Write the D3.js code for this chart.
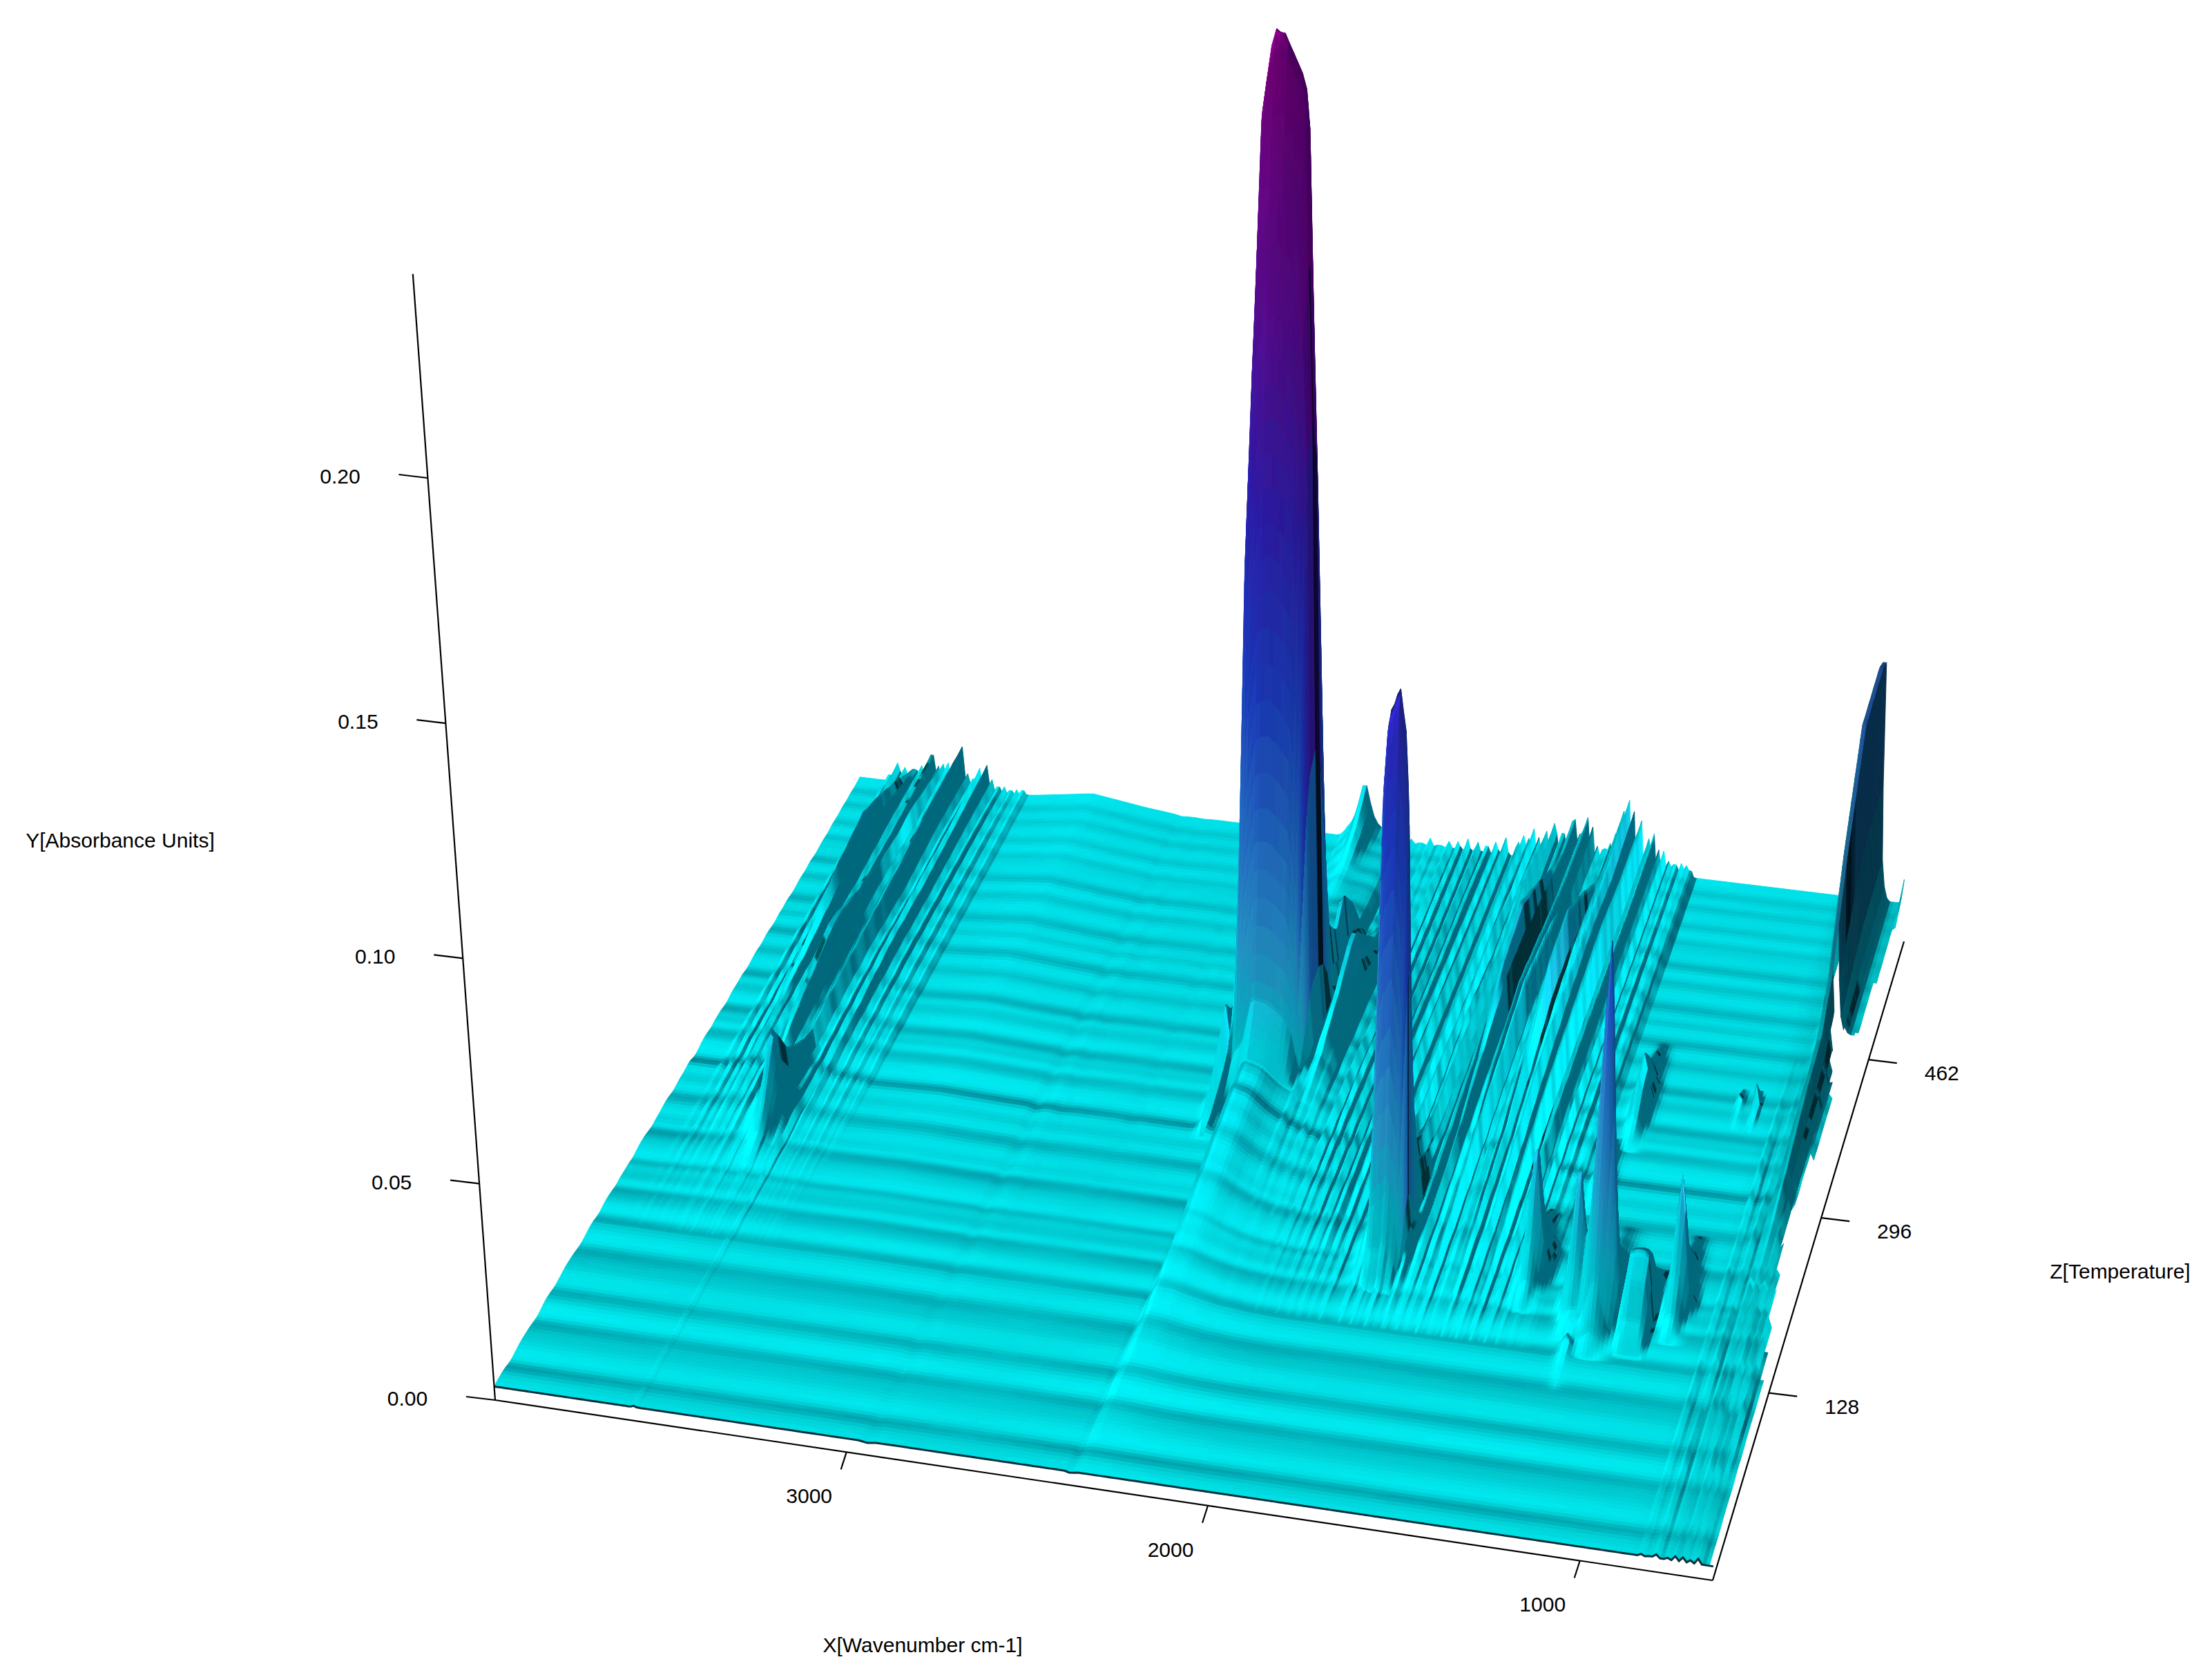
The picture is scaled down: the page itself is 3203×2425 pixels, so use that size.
<!DOCTYPE html>
<html><head><meta charset="utf-8">
<script src="https://cdnjs.cloudflare.com/ajax/libs/d3/7.8.5/d3.min.js"></script>
<style>html,body{margin:0;padding:0;background:#fff}text{font-family:"Liberation Sans",Arial,sans-serif;font-size:30px;fill:#000}</style>
</head><body><svg id="chart" width="3203" height="2425" viewBox="0 0 3203 2425"></svg>
<script>
// ---- axes ----
const wavenumberDomain=[4000,650], temperatureDomain=[-36,596], absorbanceDomain=[0,0.24];
const xTicks=[3000,2000,1000], zTicks=[128,296,462], yTicks=[0,0.05,0.10,0.15,0.20];
const xTitle="X[Wavenumber cm-1]", yTitle="Y[Absorbance Units]", zTitle="Z[Temperature]";
// ---- baseline read along the temperature axis, front to back ----
const baselineByTemperature=[32,34,35,35,32,32,35,37,38,38,38,36,35,38,41,42,41,39,41,43,45,45,45,44,42,42,45,47,48,46,45,48,50,50,49,47,50,50,50,51,49,52,54,55,55,53,51,54,54,56,58,58,56,55,58,59,59,61,63,58,57,60,63,64,63,62,65,65,66,64,63,66,68,68,68,70,68,67,69,71,72,71,71,73,75,73,72,74,76,75,77,78,76,76,78,80,80,79,81,83,81,81,83,84,85,84,86,88,87,88,90,91,90,92,93,92,94,96].map(v=>v/10000);
const stripeGainWn=[4000,3500,3000,2700,2300,1800,1300,900,650], stripeGain=[1.15,.8,1,.7,1.2,.9,1.05,.85,.6];
const spectrumWn=[4000,3500,3400,3230,3050,2930,2600,650], spectrumExtra=[0,0,0.001,0.003,0.001,0,0,0];
// ---- lowest wavenumber still drawn at each temperature ----
const limitTemp=[-36,122,250,375,448,456,596], limitWn=[655,660,715,690,750,680,655];
// ---- absorption bands ----
const T8=[120,200,260,330,400,470,530,596];
const T9=[-36,40,90,130,180,240,300,360,420];
const T6=[280,340,400,450,500,560];
const bandCentres=[2354,2320,2320,2350,1780,1780,1150,1367,1225,950,1045,1210,1230,1270,956,910,3665,2170,2240,2440,755,3600,2880,660,
 1863,1830,1795,1745,1695,1670,1644,1610,1575,1531,1500,1450,1420,1385,1350,1320,1700,1560,
 3869,3820,3790,3756,3720,3690,3657,3620,3579,3540,3500,3460,3830,3730,
 840,800,770,730,690,815,750,710,
 2200,2170,2140,2110,2080,2050,2020,1990,1960,1930,1900,1845,1812,1770,1720,1682,1657,1627,1592,1553,1515,1475,1435,1402,1368,1335,
 3900,3845,3805,3772,3738,3705,3672,3638,3600,3560,3520,3480,
 2375,2345,2940,2860,2660];
const bandHalfWidths=[350,118,78,70,52,120,85,65,60,60,45,45,55,50,12,12,85,70,50,40,50,15,20,12,
 18,18,20,22,20,16,20,20,20,20,18,20,16,16,16,16,45,45,
 16,18,16,20,18,16,20,18,20,18,18,18,40,40,
 12,12,12,12,12,12,12,12,
 17,17,17,17,17,17,17,17,17,17,17,15,15,16,16,14,14,15,15,16,15,16,14,14,14,14,
 15,15,14,14,15,14,14,15,16,16,16,16,
 22,48,34,34,34];
const bandShapes=["step","plateau","box","peak","plateau","peak","peak","peak","peak","peak","plateau"];
const bandTemps=[
 [-36,0,50,100,150,217,260,293,350,400,450,596],
 [305,325,332,340,348,356,368,380,390,400,412,435,520,596],
 [352,362,372,382,392,402],
 [500,540,570,596],
 [150,165,172,178,184,190,194,198,205,215,230,260,300],
 [155,170,180,190,205,230],
 [118,130,140,148,156,162,168,178,190,210,240],
 [150,165,175,182,188,194,202,215,240],
 [130,145,155,162,167,172,182,195,220],
 [140,155,165,172,178,184,194,210,240],
 [125,140,150,160,170,185,205],
 [90,110,125,140,160],
 [310,330,345,360,380,420],
 [250,265,280,295,320],
 [345,360,372,385],
 [345,360,372,385],
 [185,205,218,228,236,244,256,275,300],
 [300,340,380,410,425,440,470,520],
 [400,430,450,470,490],
 [270,300,330,360,400],
 [200,300,350,400,432,470,520,583,596],
 [-36,100,200,300],
 [100,250,400,560],
 [560,585,596],
 T8,T8,T8,T8,T8,T8,T8,T8,T8,T8,T8,T8,T8,T8,T8,T8,T6,T6,
 T8,T8,T8,T8,T8,T8,T8,T8,T8,T8,T8,T8,
 [330,400,450,500,560,596],[270,320,380,440,500],
 T9,T9,T9,T9,T9,T9,T9,T9,
 T8,T8,T8,T8,T8,T8,T8,T8,T8,T8,T8,T8,T8,T8,T8,T8,T8,T8,T8,T8,T8,T8,T8,T8,T8,T8,
 T8,T8,T8,T8,T8,T8,T8,T8,T8,T8,T8,T8,
 [-36,100,200,290],[362,372,382,394],[-36,120,300,596],[120,300,450,596],[150,300,450,596]
];
const bandHeights=[
 [0,.0005,.0015,.003,.005,.009,.011,.012,.01,.005,.002,0],
 [0,.012,.05,.105,.155,.18,.19,.175,.12,.06,.02,.006,.004,.003],
 [0,.019,.037,.037,.016,0],
 [0,.002,.006,.012],
 [0,.004,.014,.04,.075,.105,.112,.1,.065,.03,.01,.003,0],
 [0,.005,.014,.016,.007,0],
 [0,.004,.015,.04,.07,.085,.07,.035,.012,.003,0],
 [0,.004,.012,.022,.03,.026,.015,.006,0],
 [0,.004,.014,.026,.033,.028,.015,.006,0],
 [0,.004,.012,.022,.03,.025,.012,.005,0],
 [0,.005,.012,.016,.014,.006,0],
 [0,.001,.003,.001,0],
 [0,.004,.01,.012,.006,0],
 [0,.004,.008,.004,0],
 [0,.002,.005,0],
 [0,.002,.005,0],
 [0,.003,.009,.016,.02,.016,.009,.004,0],
 [0,.004,.011,.017,.018,.013,.005,0],
 [0,.008,.016,.01,0],
 [0,.008,.018,.009,0],
 [.001,.006,.01,.012,.022,.046,.07,.071,.069],
 [.0003,.0005,.001,0],
 [0,.0008,.001,.0003],
 [0,.003,.006],
 [0,.001,.003,.004,.004,.005,.006,.005],
 [0,.001,.004,.006,.005,.006,.007,.006],
 [0,.002,.005,.006,.008,.006,.007,.006],
 [0,.002,.006,.009,.010,.011,.011,.012],
 [0,.003,.006,.011,.014,.013,.012,.013],
 [0,.002,.005,.008,.009,.008,.009,.009],
 [0,.002,.006,.012,.016,.014,.012,.012],
 [0,.002,.005,.008,.010,.009,.007,.006],
 [0,.003,.007,.011,.014,.012,.008,.008],
 [0,.003,.006,.010,.013,.015,.015,.016],
 [0,.002,.005,.009,.012,.014,.013,.015],
 [0,.002,.004,.008,.008,.009,.009,.010],
 [0,.001,.003,.005,.005,.006,.006,.006],
 [0,.001,.003,.004,.005,.005,.005,.005],
 [0,.001,.002,.003,.003,.004,.004,.004],
 [0,.001,.001,.002,.002,.002,.003,.003],
 [0,.004,.012,.016,.01,0],
 [0,.004,.012,.014,.008,0],
 [0,.001,.002,.003,.004,.006,.006,.007],
 [0,.001,.003,.005,.006,.007,.008,.006],
 [0,.001,.003,.004,.005,.005,.006,.006],
 [0,.002,.005,.007,.009,.010,.011,.012],
 [0,.002,.004,.006,.008,.008,.009,.006],
 [0,.001,.003,.005,.006,.007,.008,.007],
 [0,.002,.005,.008,.009,.010,.012,.012],
 [0,.001,.003,.005,.006,.005,.006,.005],
 [0,.001,.003,.005,.007,.007,.008,.009],
 [0,.001,.002,.003,.004,.004,.004,.003],
 [0,.001,.002,.002,.003,.003,.003,.002],
 [0,0,.001,.002,.002,.002,.002,.002],
 [0,.005,.01,.012,.005,0],
 [0,.006,.011,.005,0],
 [.0004,.001,.0015,.0008,.0015,.001,.002,.001,0],
 [.0008,.0016,.0006,.0018,.0008,.002,.001,.0012,0],
 [.0004,.0012,.002,.001,.002,.0012,.0016,.002,.001],
 [.001,.002,.001,.0024,.0012,.0026,.0016,.002,.001],
 [.0012,.0008,.0024,.0012,.0028,.0014,.002,.0014,.001],
 [.0006,.0012,.0004,.0016,.0009,.0014,.0006,.001,0],
 [.001,.0006,.0018,.0008,.002,.001,.0018,.0012,.0006],
 [.0006,.0018,.0008,.002,.001,.0016,.002,.001,.0006],
 [0,0,.001,.0015,.0018,.002,.0015,.0012],
 [0,.0006,.0015,.002,.0015,.0018,.0024,.0015],
 [0,0,.0012,.0018,.0024,.0018,.0015,.002],
 [0,.001,.0018,.0015,.0027,.0024,.0018,.0015],
 [0,.001,.002,.003,.0024,.002,.0027,.0018],
 [0,.0006,.0018,.0036,.003,.0024,.003,.0024],
 [0,.0012,.0027,.003,.004,.003,.0027,.003],
 [0,.0015,.003,.0045,.004,.0036,.0033,.003],
 [0,.0024,.0036,.005,.0045,.004,.0045,.003],
 [0,.0018,.0045,.006,.005,.0045,.004,.0036],
 [0,.003,.005,.0054,.006,.0048,.0045,.0045],
 [0,.0045,.0075,.0075,.008,.0075,.0075,.006],
 [0,.004,.008,.009,.0075,.009,.0068,.0075],
 [0,.0054,.009,.011,.0105,.0098,.012,.009],
 [0,.006,.0105,.0135,.016,.012,.0128,.0135],
 [0,.005,.009,.012,.0135,.0105,.0112,.012],
 [0,.0054,.0098,.0128,.015,.0112,.012,.0112],
 [0,.006,.0112,.0142,.018,.015,.009,.0105],
 [0,.0054,.009,.0128,.0165,.0135,.0105,.0082],
 [0,.006,.0105,.0142,.0165,.015,.0112,.0128],
 [0,.0054,.009,.0135,.0158,.0165,.0172,.0188],
 [0,.005,.0098,.0128,.0142,.0158,.0142,.0142],
 [0,.0045,.0075,.009,.0098,.0098,.0098,.0105],
 [0,.0036,.005,.0075,.0068,.0075,.0075,.0075],
 [0,.003,.0042,.006,.006,.0068,.006,.006],
 [0,.002,.003,.0042,.0045,.0045,.0045,.0045],
 [0,.0005,.001,.002,.003,.0035,.004,.003],
 [0,.0006,.0016,.003,.0045,.0055,.0045,.006],
 [0,.0008,.002,.0034,.0042,.005,.006,.005],
 [0,.001,.0026,.005,.006,.0075,.0075,.007],
 [0,.0012,.003,.0045,.0065,.006,.0075,.0065],
 [0,.001,.0026,.004,.0055,.0065,.006,.007],
 [0,.0012,.003,.005,.006,.0075,.0085,.007],
 [0,.001,.0024,.0042,.005,.0042,.0055,.005],
 [0,.001,.002,.0034,.0045,.005,.005,.006],
 [0,.0008,.0016,.0026,.003,.003,.0034,.0034],
 [0,.0006,.0012,.002,.0024,.0024,.0024,.002],
 [0,.0004,.001,.0014,.0016,.0016,.0016,.0014],
 [-.0005,-.0009,-.0014,-.001],
 [0,.004,.004,0],
 [-.0003,-.0004,-.0006,-.0002],
 [0,-.0006,-.0006,-.0002],
 [0,-.0005,-.0006,-.0002]
];
const shapeOffsets={peak:[-1,-.75,-.5,-.3,-.15,0,.15,.3,.5,.75,1],plateau:[-1,-.9,-.8,-.7,-.5,0,.5,.7,.8,.9,1],box:[-1,-.92,-.85,0,.85,.92,1],step:[-1,-.75,-.5,-.3,-.15,0,.04,.08]};
const shapeWeights={peak:[0,.03,.15,.42,.78,1,.78,.42,.15,.03,0],plateau:[0,.1,.4,.8,.97,1,.97,.8,.4,.1,0],box:[0,.35,.95,1,.95,.35,0],step:[0,.1,.3,.6,.9,1,.5,0]};
// ---- colours by absorbance ----
const litStops=[0,.02,.04,.07,.10,.14,.18,.23], litColours=["rgb(0,212,216)","rgb(0,210,222)","rgb(50,170,228)","rgb(50,115,235)","rgb(35,55,225)","rgb(55,28,200)","rgb(105,15,165)","rgb(125,0,125)"];
const darkStops=[0,.02,.05,.1,.14,.18,.23], darkColours=["rgb(0,105,122)","rgb(0,105,125)","rgb(12,92,135)","rgb(15,55,130)","rgb(30,25,120)","rgb(55,5,100)","rgb(70,0,90)"];

// ---- scales & perspective ----
const W=3203,H=2425;
const xScale=d3.scaleLinear().domain(wavenumberDomain).range([0,1]);
const zScale=d3.scaleLinear().domain(temperatureDomain).range([0,1]);
const yScale=d3.scaleLinear().domain([0,1]).range([0,-0.4004]);
const M={a:1646.6,b:749.7,c:717,d:153.6,e:-641.5,f:2027,g:-0.04693,h:0.17616,vx:1838,vy:17363};
function project(wn,T,A){const u=xScale(wn),w=zScale(T),t=yScale(A);
 const q=M.g*u+M.h*w+1+t;
 return [(M.a*u+M.b*w+M.c+t*M.vx)/q,(M.d*u+M.e*w+M.f+t*M.vy)/q];}
const svg=d3.select("#chart");

// ---- sampling grid ----
const wnGrid=[...d3.range(4000,3420,-8),...d3.range(3420,2560,-24),...d3.range(2560,2060,-12),...d3.range(2060,1280,-8),...d3.range(1280,650,-10),650];
const tGrid=[...d3.range(596,400,-3),...d3.range(400,300,-1.2),...d3.range(300,215,-3),...d3.range(215,115,-1.6),...d3.range(115,-36,-3),-36];
const baseline=d3.interpolateBasis(baselineByTemperature);
const trend=d3.scaleLinear().domain([0,1]).range([baselineByTemperature[0],baselineByTemperature[baselineByTemperature.length-1]]);
const gain=d3.scaleLinear().domain(stripeGainWn).range(stripeGain);
const spectrum=d3.scaleLinear().domain(spectrumWn).range(spectrumExtra);
const limit=d3.scaleLinear().domain(limitTemp).range(limitWn);
const nR=tGrid.length,nC=wnGrid.length;
const A=tGrid.map(T=>{const w=zScale(T),b=baseline(w),t=trend(w);return Float64Array.from(wnGrid,wn=>t+(b-t)*gain(wn)+spectrum(wn)*w*w);});
bandCentres.forEach((c,i)=>{
 const shape=bandShapes[i]||"peak",hw=bandHalfWidths[i];
 const prof=d3.scaleLinear().domain(shapeOffsets[shape]).range(shapeWeights[shape]).clamp(true);
 const hs=d3.scaleLinear().domain(bandTemps[i]).range(bandHeights[i]);
 const lo=bandTemps[i][0],hi=bandTemps[i][bandTemps[i].length-1];
 const cols=[];wnGrid.forEach((wn,j)=>{const o=(wn-c)/hw;if(o>=-1&&o<=1)cols.push([j,prof(o)]);});
 tGrid.forEach((T,r)=>{if(T<lo||T>hi)return;const h=hs(T);cols.forEach(([j,p])=>{A[r][j]+=h*p;});});
});
// ---- shading ----
const lit=d3.scaleLinear().domain(litStops).range(litColours).clamp(true);
const dark=d3.scaleLinear().domain(darkStops).range(darkColours).clamp(true);
const L=[-.4,.72,-.56],Ysz=11,Ysx=3,uc=.6,clampX=2.6;
function shade(r,c){
 const r0=Math.max(r-1,0),r1=Math.min(r+1,nR-1),c0=Math.max(c-1,0),c1=Math.min(c+1,nC-1);
 const du=xScale(wnGrid[c1])-xScale(wnGrid[c0]),dw=zScale(tGrid[r0])-zScale(tGrid[r1]);
 const s=(A[r][c1]-A[r][c0])/du;
 const sxRaw=s*(.6+Ysx*Math.min(1,Math.abs(s)/.5)),sz=Ysz*(A[r0][c]-A[r1][c])/dw;
 const sx=Math.max(-clampX,Math.min(clampX,sxRaw));
 const nn=Math.hypot(sx,1,sz),nx=-sx/nn,ny=1/nn,nz=-sz/nn;
 const u=xScale(wnGrid[c]),a=A[r][c];
 // tall bands are lit from the side: left flank bright, right flank in shade
 const tall=Math.min(1,Math.max(0,(a-.03)/.04));
 const nl=nx*L[0]+ny*L[1]+nz*L[2]+tall*(-.34*nx-.06);
 let vx=(uc-u)*.6,vy=.75,vz=-.65;const vn=Math.hypot(vx,vy,vz);
 const rn=Math.hypot(sxRaw,1,sz);
 const nv=Math.abs((-sxRaw*vx+vy-sz*vz)/rn)/vn;
 const floor=a>.05?.2:.42;
 let edge=Math.min(1,Math.max(floor,(nv-.015)/.03));
 edge*=1-.45*Math.min(1,Math.max(0,(u-.93)/.03))*Math.min(1,a/.03);
 const I=(nl-.3)/.47;
 const l=d3.rgb(lit(a)),d=d3.rgb(dark(a));
 let R,G,B;
 if(I<1){const i=Math.max(0,I);R=d.r+(l.r-d.r)*i;G=d.g+(l.g-d.g)*i;B=d.b+(l.b-d.b)*i;}
 else{const k=1+.5*(I-1);R=l.r*k;G=l.g*k;B=l.b*k;}
 const q=v=>Math.min(255,Math.round(v*edge/4)*4);
 return `rgb(${q(R)},${q(G)},${q(B)})`;
}
// ---- draw the surface cell by cell, back to front ----
const g=svg.append("g");
const order=d3.range(nC-1).sort((i,j)=>Math.abs(xScale(wnGrid[j])-uc)-Math.abs(xScale(wnGrid[i])-uc));
const pts=A.map((row,r)=>Array.from(row,(a,c)=>project(wnGrid[c],tGrid[r],a)));
const cells=[];
for(let r=0;r<nR-1;r++){
 const minWn=limit(tGrid[r]);
 let cur=null,curD="";
 for(const c of order){
  if(wnGrid[c+1]<minWn)continue;
  const col=shade(r,c),p=pts[r][c],q=pts[r][c+1],s=pts[r+1][c+1],t=pts[r+1][c];
  const dd=`M${p[0].toFixed(1)},${p[1].toFixed(1)}L${q[0].toFixed(1)},${q[1].toFixed(1)}L${s[0].toFixed(1)},${s[1].toFixed(1)}L${t[0].toFixed(1)},${t[1].toFixed(1)}Z`;
  if(col===cur)curD+=dd;else{if(cur)cells.push([cur,curD]);cur=col;curD=dd;}
 }
 if(cur)cells.push([cur,curD]);
}
g.selectAll("path").data(cells).join("path").attr("d",d=>d[1]).attr("fill",d=>d[0]).attr("stroke",d=>d[0]).attr("stroke-width",.9).attr("stroke-linejoin","round");
// front edge
svg.append("path").attr("fill","none").attr("stroke","#07303a").attr("stroke-width",3)
 .attr("d",d3.line()(pts[nR-1]));
// ---- axes ----
const ax=svg.append("g").attr("stroke","#000").attr("stroke-width",2.2).attr("fill","none");
const seg=(a,b)=>ax.append("line").attr("x1",a[0]).attr("y1",a[1]).attr("x2",b[0]).attr("y2",b[1]);
const T0=temperatureDomain[0],T1=temperatureDomain[1],W0=wavenumberDomain[0],W1=wavenumberDomain[1];
seg(project(W0,T0,0),project(W1,T0,0));
seg(project(W1,T0,0),project(W1,T1,0));
seg(project(W0,T0,0),project(W0,T0,absorbanceDomain[1]));
const label=(x,y,t,anchor)=>svg.append("text").attr("x",x).attr("y",y).attr("text-anchor",anchor||"middle").attr("dominant-baseline","middle").text(t);
const fmt=d3.format(".2f");
yTicks.forEach(v=>{const p=project(W0,T0,v);seg(p,[p[0]-42,p[1]-5]);label(p[0]-127,p[1],fmt(v));});
xTicks.forEach(v=>{const p=project(v,T0,0);seg(p,[p[0]-8,p[1]+25]);label(p[0]-54,p[1]+66,String(v));});
zTicks.forEach(v=>{const p=project(W1,v,0);seg(p,[p[0]+41,p[1]+5]);label(p[0]+106,p[1]+22,String(v));});
label(174,1219,yTitle);label(1336,2384,xTitle);label(3070,1843,zTitle);
</script></body></html>
